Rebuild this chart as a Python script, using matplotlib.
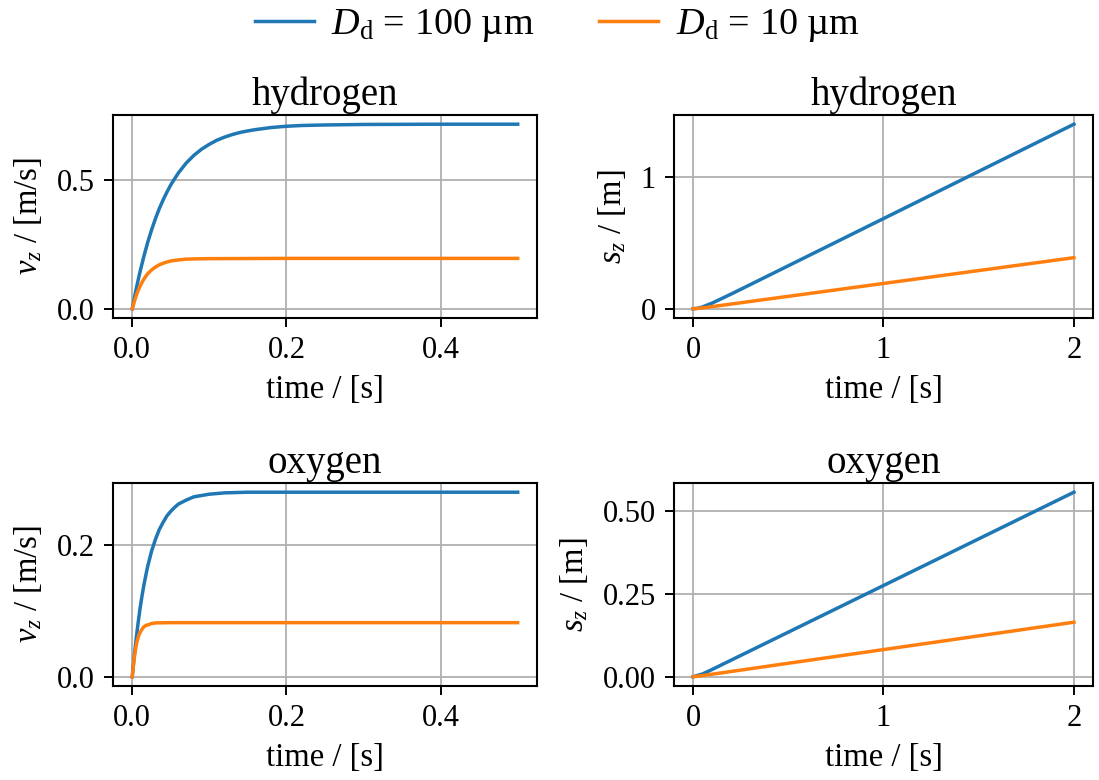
import numpy as np
import matplotlib
matplotlib.use("Agg")
import matplotlib.pyplot as plt

plt.rcParams["font.family"] = ["Liberation Serif", "DejaVu Serif"]
plt.rcParams["mathtext.fontset"] = "custom"
plt.rcParams["mathtext.rm"] = "Liberation Serif"
plt.rcParams["mathtext.it"] = "Liberation Serif:italic"

labels = [r"$D_\mathrm{d}$ = 100 µm", r"$D_\mathrm{d}$ = 10 µm"]
species = ["hydrogen", "oxygen"]

# velocity over the first 0.5 s
t_v_h2_100 = [0, 0.005, 0.01, 0.015, 0.02, 0.025, 0.03, 0.035, 0.04, 0.045, 0.05, 0.055,
              0.06, 0.07, 0.08, 0.09, 0.10, 0.11, 0.12, 0.13, 0.14, 0.15, 0.16, 0.18,
              0.20, 0.22, 0.25, 0.30, 0.40, 0.50]
v_h2_100 = [0, 0.076, 0.143, 0.203, 0.258, 0.306, 0.350, 0.389, 0.423, 0.454, 0.482, 0.506,
            0.529, 0.567, 0.597, 0.621, 0.640, 0.656, 0.668, 0.678, 0.686, 0.692, 0.697,
            0.705, 0.710, 0.713, 0.715, 0.717, 0.718, 0.718]
t_v_h2_10 = [0, 0.0025, 0.005, 0.0075, 0.01, 0.0125, 0.015, 0.0175, 0.02, 0.025, 0.03,
             0.035, 0.04, 0.045, 0.05, 0.06, 0.07, 0.08, 0.10, 0.20, 0.50]
v_h2_10 = [0, 0.026, 0.050, 0.070, 0.087, 0.102, 0.115, 0.126, 0.136, 0.151, 0.162,
           0.171, 0.177, 0.182, 0.186, 0.190, 0.193, 0.194, 0.195, 0.196, 0.196]
t_v_o2_100 = [0, 0.0025, 0.005, 0.0075, 0.01, 0.0125, 0.015, 0.0175, 0.02, 0.025, 0.03,
              0.035, 0.04, 0.045, 0.05, 0.055, 0.06, 0.065, 0.07, 0.08, 0.09, 0.10,
              0.12, 0.15, 0.50]
v_o2_100 = [0, 0.030, 0.057, 0.081, 0.103, 0.122, 0.139, 0.154, 0.168, 0.191, 0.209,
            0.224, 0.235, 0.245, 0.252, 0.258, 0.263, 0.266, 0.269, 0.274, 0.276, 0.278,
            0.280, 0.281, 0.281]
t_v_o2_10 = [0, 0.00125, 0.0025, 0.00375, 0.005, 0.00625, 0.0075, 0.00875, 0.01, 0.0125,
             0.015, 0.0175, 0.02, 0.025, 0.03, 0.05, 0.50]
v_o2_10 = [0, 0.015, 0.028, 0.038, 0.047, 0.054, 0.059, 0.064, 0.067, 0.072,
           0.076, 0.078, 0.079, 0.081, 0.082, 0.0824, 0.0824]

# travelled distance over 2 s
t_s_h2_100 = [0, 0.025, 0.05, 0.1, 0.2, 0.5, 1.0, 1.5, 2.0]
s_h2_100 = [0, 0.004, 0.014, 0.043, 0.112, 0.327, 0.686, 1.045, 1.404]
t_s_h2_10 = [0, 0.05, 0.1, 0.5, 1.0, 1.5, 2.0]
s_h2_10 = [0, 0.0067, 0.0163, 0.0947, 0.1927, 0.2907, 0.3887]
t_s_o2_100 = [0, 0.05, 0.1, 0.5, 1.0, 1.5, 2.0]
s_o2_100 = [0, 0.0085, 0.022, 0.1343, 0.2748, 0.4153, 0.5558]
t_s_o2_10 = [0, 0.05, 0.5, 1.0, 1.5, 2.0]
s_o2_10 = [0, 0.0036, 0.0407, 0.0819, 0.1231, 0.1643]

vel = [[(t_v_h2_100, v_h2_100), (t_v_h2_10, v_h2_10)],
       [(t_v_o2_100, v_o2_100), (t_v_o2_10, v_o2_10)]]
dist = [[(t_s_h2_100, s_h2_100), (t_s_h2_10, s_h2_10)],
        [(t_s_o2_100, s_o2_100), (t_s_o2_10, s_o2_10)]]

v_ticks = [[0.0, 0.5], [0.0, 0.2]]
s_ticks = [[0, 1], [0.0, 0.25, 0.5]]
s_fmt = ["{:.0f}", "{:.2f}"]

colors = ["#1f77b4", "#ff7f0e"]

fig = plt.figure(figsize=(10.99, 7.8), dpi=100)
lefts = [0.1028, 0.6133]
width = [0.3858, 0.3812]
bottoms = [0.5923, 0.1205]
height = 0.2603

for row in range(2):
    ax_v = fig.add_axes([lefts[0], bottoms[row], width[0], height])
    ax_s = fig.add_axes([lefts[1], bottoms[row], width[1], height])
    for k in range(2):
        t, v = vel[row][k]
        ax_v.plot(t, v, color=colors[k], lw=2.5, label=labels[k])
        t, s = dist[row][k]
        ax_s.plot(t, s, color=colors[k], lw=2.5)

    ax_v.set_xticks([0.0, 0.2, 0.4])
    ax_v.set_xticklabels(["0.0", "0.2", "0.4"])
    ax_v.set_yticks(v_ticks[row])
    ax_v.set_yticklabels(["{:.1f}".format(x) for x in v_ticks[row]])
    ax_v.set_ylabel(r"$v_z$ / [m/s]", fontsize=23.5, labelpad=9)

    ax_s.set_xticks([0, 1, 2])
    ax_s.set_yticks(s_ticks[row])
    ax_s.set_yticklabels([s_fmt[row].format(x) for x in s_ticks[row]])
    ax_s.set_ylabel(r"$s_z$ / [m]", fontsize=23.5, labelpad=9)

    for ax in (ax_v, ax_s):
        ax.set_title(species[row], fontsize=28, pad=7)
        ax.set_xlabel("time / [s]", fontsize=23.5, labelpad=7)
        ax.grid(True, color="#b0b0b0", lw=1.3)
        ax.tick_params(labelsize=22, width=1.4, length=6.5, pad=6.5)
        for sp in ax.spines.values():
            sp.set_linewidth(1.5)

    if row == 0:
        handles, lbls = ax_v.get_legend_handles_labels()

fig.legend(handles, lbls, loc="upper center", bbox_to_anchor=(0.507, 1.035), ncol=2,
           frameon=False, fontsize=27.5, handlelength=1.55, handletextpad=0.45,
           columnspacing=1.7)

fig.savefig("out.png", dpi=100)
